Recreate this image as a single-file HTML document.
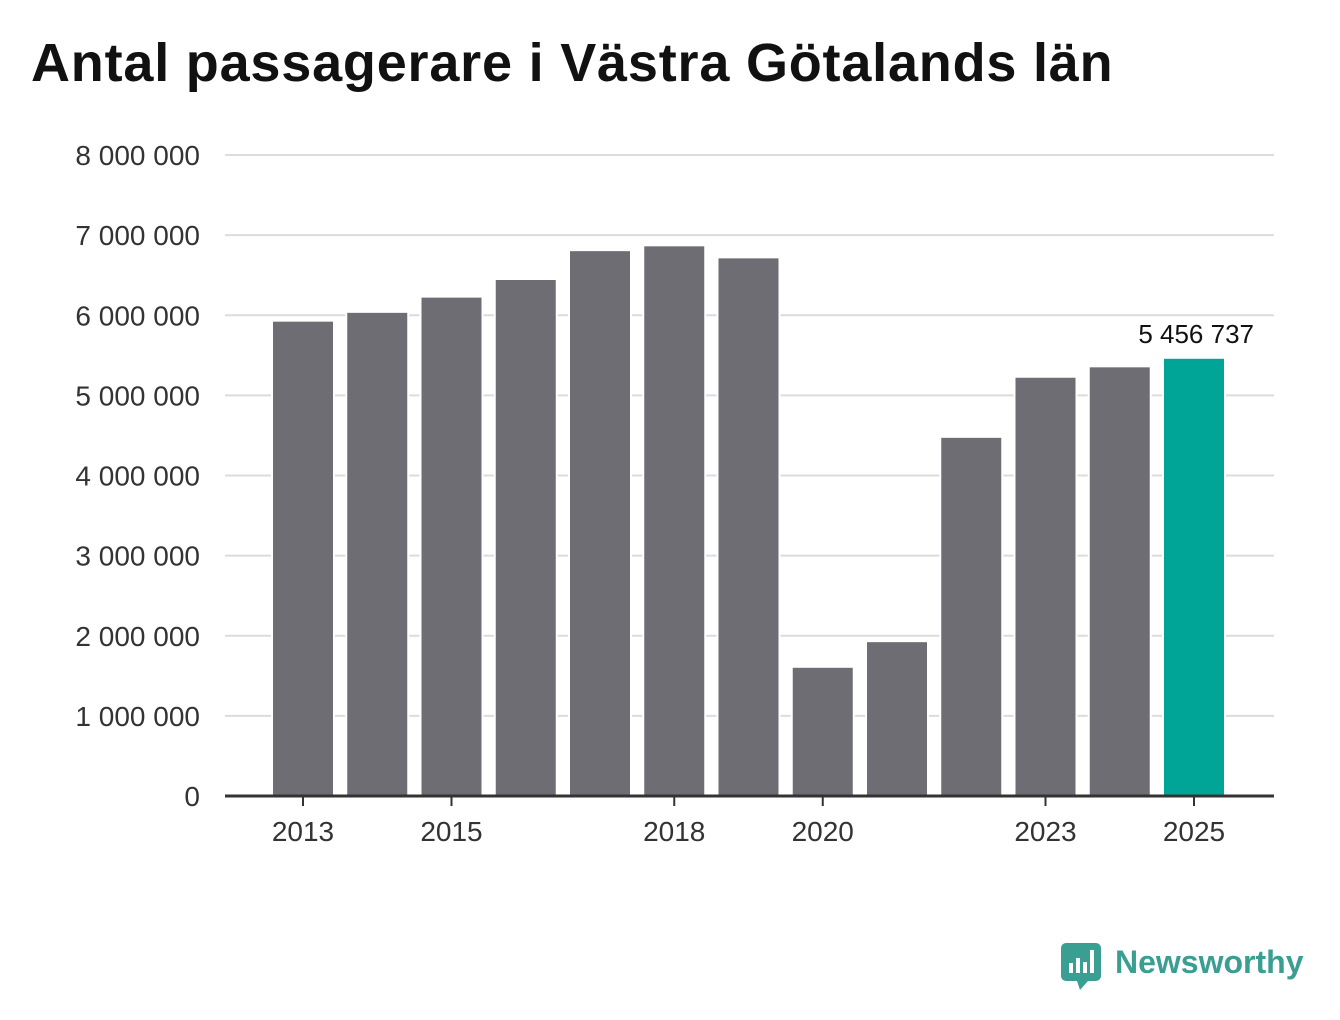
<!DOCTYPE html>
<html><head><meta charset="utf-8">
<style>
html,body{margin:0;padding:0;background:#fff;}
body{width:1340px;height:1020px;overflow:hidden;font-family:"Liberation Sans","DejaVu Sans",sans-serif;}
h1{position:absolute;left:31px;top:32px;margin:0;font-size:54px;font-weight:bold;color:#111;letter-spacing:0.8px;white-space:nowrap;}
svg{position:absolute;left:0;top:0;}
</style></head>
<body>
<h1>Antal passagerare i Västra Götalands län</h1>
<svg id="chart" width="1340" height="1020"></svg>
<script>
const years=[2013,2014,2015,2016,2017,2018,2019,2020,2021,2022,2023,2024,2025];
const values=[5920000,6030000,6220000,6440000,6800000,6860000,6710000,1600000,1920000,4470000,5220000,5350000,5456737];
const yTicks=[0,1000000,2000000,3000000,4000000,5000000,6000000,7000000,8000000];
const xTickYears=[2013,2015,2018,2020,2023,2025];
const highlightLabel="5 456 737";

const svg=document.getElementById('chart');
const NS='http://www.w3.org/2000/svg';
const y0=796,yTop=155,yMax=8000000,x0=303,step=74.25,bw=60,left=225,right=1274;
const yS=v=>y0-(v/yMax)*(y0-yTop);
const xS=yr=>x0+(yr-years[0])*step;
const fmt=v=>String(v).replace(/\B(?=(\d{3})+(?!\d))/g,' ');
function mk(t,a){const e=document.createElementNS(NS,t);for(const k in a)e.setAttribute(k,a[k]);svg.appendChild(e);return e;}

yTicks.forEach(v=>{
  if(v>0){const g=mk('line',{x1:left,x2:right,y1:yS(v),y2:yS(v),stroke:'#dcdcdc','stroke-width':2});
  
  }
  const t=mk('text',{x:200,y:yS(v)+10,'text-anchor':'end','font-size':28,fill:'#333'});
  t.textContent=fmt(v);
  
  
});
years.forEach((yr,i)=>{
  const last=i===years.length-1;
  const r=mk('rect',{x:xS(yr)-bw/2,y:yS(values[i]),width:bw,height:y0-yS(values[i]),fill:last?'#00a597':'#6e6d74',stroke:'#fff','stroke-width':4,'paint-order':'stroke'});
  
  
});
const ax=mk('line',{x1:left,x2:right,y1:y0,y2:y0,stroke:'#333','stroke-width':3});


xTickYears.forEach(yr=>{
  const tk=mk('line',{x1:xS(yr),x2:xS(yr),y1:y0,y2:y0+10,stroke:'#333','stroke-width':2});
  
  
  const t=mk('text',{x:xS(yr),y:841,'text-anchor':'middle','font-size':28,fill:'#333'});
  t.textContent=yr;
  
  
});
const li=values.length-1;
const lab=mk('text',{x:xS(years[li])+60,y:yS(values[li])-16,'text-anchor':'end','font-size':26,fill:'#111'});
lab.textContent=highlightLabel;


</script>
<svg width="1340" height="1020" style="pointer-events:none">
  <path d="M1066 943 h30 a5 5 0 0 1 5 5 v28 a5 5 0 0 1 -5 5 h-8 l-8 9 l-3 -9 h-11 a5 5 0 0 1 -5 -5 v-28 a5 5 0 0 1 5 -5z" fill="#3a9e92"/>
  <rect x="1069" y="963" width="4" height="10" fill="#fff"/><rect x="1076" y="958" width="4" height="15" fill="#fff"/>
  <rect x="1083" y="962" width="4" height="11" fill="#fff"/><rect x="1090" y="950" width="4" height="23" fill="#fff"/>
  <text x="1115" y="973" font-size="32" font-weight="bold" fill="#3a9e92" font-family="Liberation Sans, sans-serif">Newsworthy</text>
</svg>
</body></html>
